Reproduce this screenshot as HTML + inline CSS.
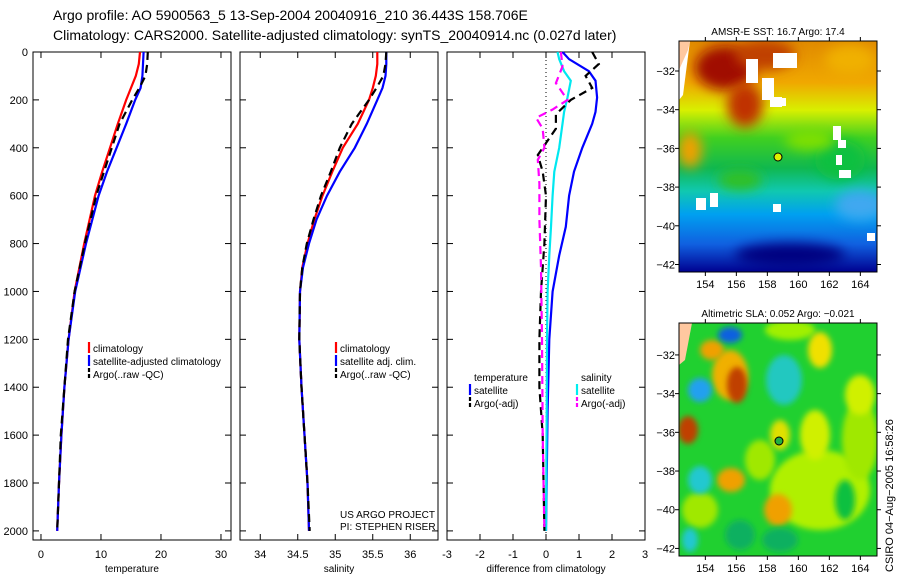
<!DOCTYPE html>
<html><head><meta charset="utf-8"><style>
body{margin:0;background:#fff;}
svg{display:block;font-family:"Liberation Sans",sans-serif;}
</style></head><body>
<svg id="c" width="900" height="580" viewBox="0 0 900 580">
<defs>
<filter id="bl" x="-50%" y="-50%" width="200%" height="200%"><feGaussianBlur stdDeviation="6"/></filter>
<filter id="bl2" x="-50%" y="-50%" width="200%" height="200%"><feGaussianBlur stdDeviation="3"/></filter>
<linearGradient id="sstg" x1="0" y1="0" x2="0" y2="1">
<stop offset="0" stop-color="#e08a00"/><stop offset="0.18" stop-color="#f0a800"/><stop offset="0.3" stop-color="#d8f000"/>
<stop offset="0.42" stop-color="#40d020"/><stop offset="0.55" stop-color="#10b850"/><stop offset="0.65" stop-color="#10c8b0"/>
<stop offset="0.75" stop-color="#00a0f0"/><stop offset="0.88" stop-color="#1060e0"/><stop offset="1" stop-color="#000090"/>
</linearGradient>
<clipPath id="m1c"><rect x="679" y="41" width="198" height="231"/></clipPath>
<clipPath id="m2c"><rect x="679" y="323" width="198" height="233"/></clipPath>
</defs>
<g id="root"></g>
</svg>
<script>
// ---- profile data (depth in m) ----
const tDepth = [0,50,100,150,200,300,400,500,600,800,1000,1200,1400,1600,1800,2000];
const tClim  = [16.5,16.3,15.8,15.0,14.2,12.8,11.5,10.2,9.0,7.2,5.6,4.6,3.9,3.4,3.0,2.7];
const tSat   = [17.1,17.0,16.9,16.6,15.7,14.2,12.6,11.0,9.6,7.5,5.7,4.6,3.9,3.4,3.0,2.7];
const tArgo  = [17.8,17.7,17.4,16.4,15.2,13.1,11.8,10.5,9.2,7.3,5.6,4.5,3.9,3.3,3.0,2.7];
const sDepth = [0,50,100,150,200,300,400,500,600,700,800,900,1000,1200,1400,1600,1800,2000];
const sClim  = [35.56,35.56,35.54,35.5,35.45,35.3,35.1,34.96,34.83,34.72,34.63,34.56,34.53,34.52,34.55,34.59,34.63,34.65];
const sSat   = [35.68,35.68,35.67,35.63,35.56,35.42,35.26,35.06,34.89,34.75,34.65,34.57,34.53,34.52,34.55,34.59,34.63,34.65];
const sArgo  = [35.68,35.67,35.64,35.55,35.45,35.22,35.06,34.94,34.81,34.71,34.62,34.56,34.53,34.52,34.55,34.59,34.63,34.66];
const dDepth = [0,30,80,120,190,250,300,400,500,600,730,850,1000,1200,1500,2000];
const dTSat  = [0.5,0.7,1.3,1.5,1.55,1.5,1.4,1.1,0.85,0.7,0.6,0.4,0.2,0.1,0.05,0.0];
const dSSat  = [0.35,0.4,0.55,0.75,0.65,0.55,0.5,0.4,0.25,0.2,0.15,0.1,0.05,0.03,0.02,0.0];
const dTArgoD= [0,50,100,150,200,260,320,380,430,500,600,800,1000,1200,1400,1600,2000];
const dTArgo = [1.4,1.6,1.2,1.4,0.75,0.3,0.3,0.0,-0.25,-0.1,0.0,-0.05,-0.15,-0.2,-0.2,-0.1,-0.05];
const dSArgoD= [0,60,130,200,240,275,320,400,450,550,700,900,1200,1600,2000];
const dSArgo = [0.45,0.5,0.3,0.65,0.2,-0.3,-0.1,-0.05,-0.25,-0.2,-0.2,-0.15,-0.12,-0.1,-0.05];
const depthTicks = [0,200,400,600,800,1000,1200,1400,1600,1800,2000];
const tTicks = [0,10,20,30];
const sTicks = [34,34.5,35,35.5,36];
const dTicks = [-3,-2,-1,0,1,2,3];

const NS="http://www.w3.org/2000/svg";
const root=document.getElementById('root');
function mk(tag,attrs,parent){const e=document.createElementNS(NS,tag);for(const k in attrs)e.setAttribute(k,attrs[k]);(parent||root).appendChild(e);return e;}
function txt(x,y,s,size,anchor,parent){const t=mk('text',{x:x,y:y,'font-size':size,'text-anchor':anchor||'start',fill:'#000'},parent);t.textContent=s;return t;}

const Y0=52, Y1=540, DMAX=2038;
const yScale=d=>Y0+(d/DMAX)*(Y1-Y0);

function panel(name,x0,x1,vmin,vmax,ticks,fmt,label){
  const g=mk('g',{});
  
  
  const xs=v=>x0+(v-vmin)/(vmax-vmin)*(x1-x0);
  mk('rect',{x:x0,y:Y0,width:x1-x0,height:Y1-Y0,fill:'none',stroke:'#000','stroke-width':1},g);
  ticks.forEach(v=>{const x=xs(v);
    mk('line',{x1:x,y1:Y1,x2:x,y2:Y1-6,stroke:'#000'},g);
    mk('line',{x1:x,y1:Y0,x2:x,y2:Y0+6,stroke:'#000'},g);
    txt(x,Y1+18,fmt(v),11,'middle',g);});
  depthTicks.forEach(d=>{const y=yScale(d);
    mk('line',{x1:x0,y1:y,x2:x0+6,y2:y,stroke:'#000'},g);
    mk('line',{x1:x1,y1:y,x2:x1-6,y2:y,stroke:'#000'},g);});
  const lt=txt((x0+x1)/2,Y1+32,label,10,'middle',g);
  
  return {g,xs};
}
function line(p,vals,depths,color,dash,name){
  const pts=vals.map((v,i)=>p.xs(v).toFixed(1)+','+yScale(depths[i]).toFixed(1)).join(' ');
  const l=mk('polyline',{points:pts,fill:'none',stroke:color,'stroke-width':2.2},p.g);
  if(dash)l.setAttribute('stroke-dasharray',dash);
  
  
}
depthTicks.forEach(d=>{txt(28,yScale(d)+4,String(d),11,'end');});

const p1=panel('temperature-panel',33,231,-1.33,31.67,tTicks,v=>String(v),'temperature');
line(p1,tClim,tDepth,'#ff0000',null,'temp-climatology-line');
line(p1,tSat,tDepth,'#0000ff',null,'temp-satellite-line');
line(p1,tArgo,tDepth,'#000000','8,5','temp-argo-line');

const p2=panel('salinity-panel',240,438,33.73,36.37,sTicks,v=>String(v),'salinity');
line(p2,sClim,sDepth,'#ff0000',null,'sal-climatology-line');
line(p2,sSat,sDepth,'#0000ff',null,'sal-satellite-line');
line(p2,sArgo,sDepth,'#000000','8,5','sal-argo-line');

const p3=panel('difference-panel',447,645,-3,3,dTicks,v=>String(v),'difference from climatology');
mk('line',{x1:p3.xs(0),y1:Y0,x2:p3.xs(0),y2:Y1,stroke:'#000','stroke-dasharray':'1,3'},p3.g);
line(p3,dTSat,dDepth,'#0000ff',null,'diff-temp-satellite-line');
line(p3,dSSat,dDepth,'#00e8f0',null,'diff-sal-satellite-line');
line(p3,dTArgo,dTArgoD,'#000000','8,5','diff-temp-argo-line');
line(p3,dSArgo,dSArgoD,'#ff00ff','8,5','diff-sal-argo-line');

function legend(x,y,items,name){
  const g=mk('g',{});
  items.forEach((it,i)=>{const yy=y+i*13;
    if(it[1]){const l=mk('line',{x1:x,y1:yy-10,x2:x,y2:yy+1,stroke:it[1],'stroke-width':2.2},g);if(it[2])l.setAttribute('stroke-dasharray','4,2');}
    txt(x+4,yy,it[0],10,'start',g);});
}
legend(89,352,[['climatology','#f00'],['satellite-adjusted climatology','#00f'],['Argo(..raw -QC)','#000',1]],'temp-legend');
legend(336,352,[['climatology','#f00'],['satellite adj. clim.','#00f'],['Argo(..raw -QC)','#000',1]],'sal-legend');
legend(470,381,[['temperature',null],['satellite','#00f'],['Argo(-adj)','#000',1]],'diff-temp-legend');
legend(577,381,[['salinity',null],['satellite','#0ee'],['Argo(-adj)','#f0f',1]],'diff-sal-legend');
txt(340,518,'US ARGO PROJECT',10);
txt(340,530,'PI: STEPHEN RISER',10);
const t1=txt(53,20,'Argo profile: AO 5900563_5 13-Sep-2004 20040916_210 36.443S 158.706E',14);

const t2=txt(53,40,'Climatology: CARS2000. Satellite-adjusted climatology: synTS_20040914.nc (0.027d later)',14);


// ---- maps ----
const lonTicks=[154,156,158,160,162,164];
const latTicks=[-32,-34,-36,-38,-40,-42];
function mapAxes(name,top,bot,latTop,title){
  const g=mk('g',{});
  const lx=v=>679+(v-152.3)*15.5, ly=v=>top+(latTop-v)*19.35;
  mk('rect',{x:679,y:top,width:198,height:bot-top,fill:'none',stroke:'#000'},g);
  lonTicks.forEach(v=>{mk('line',{x1:lx(v),y1:bot,x2:lx(v),y2:bot+4,stroke:'#000'},g);mk('line',{x1:lx(v),y1:top,x2:lx(v),y2:top-4,stroke:'#000'},g);txt(lx(v),bot+16,String(v),11,'middle',g);});
  latTicks.forEach(v=>{mk('line',{x1:679,y1:ly(v),x2:675,y2:ly(v),stroke:'#000'},g);mk('line',{x1:877,y1:ly(v),x2:881,y2:ly(v),stroke:'#000'},g);txt(675,ly(v)+4,String(v).replace('-','\u2212'),11,'end',g);});
  txt(778,top-6,title,10,'middle',g);
  return {lx,ly};
}
// SST map
const m1=mk('g',{'clip-path':'url(#m1c)'});

mk('rect',{x:679,y:41,width:198,height:231,fill:'url(#sstg)'},m1);
[[725,68,30,22,'#a01000'],[765,55,30,15,'#c04000'],[745,105,18,22,'#c03000'],[690,150,12,18,'#f0a000'],[740,180,22,10,'#30c020'],[840,160,25,20,'#10c040'],[860,205,25,15,'#40a8f0'],[790,255,55,12,'#000080'],[810,140,25,10,'#80e000'],[850,60,25,15,'#f0b000']].forEach(b=>mk('ellipse',{cx:b[0],cy:b[1],rx:b[2],ry:b[3],fill:b[4],filter:'url(#bl)'},m1));
mk('path',{d:'M679,41 L690,41 L683,95 L679,100 Z',fill:'#fff'},m1);
mk('path',{d:'M679,41 L690,41 L688,50 L679,70 Z',fill:'#ffc8a0'},m1);
[[746,59,12,24],[773,53,24,15],[762,78,12,22],[770,97,12,10],[773,98,13,8],[833,126,8,14],[838,140,8,8],[836,155,6,10],[839,170,12,8],[696,198,10,12],[710,193,8,14],[773,204,8,8],[867,233,8,8]].forEach(r=>mk('rect',{x:r[0],y:r[1],width:r[2],height:r[3],fill:'#fff'},m1));
mapAxes('sst-map',41,272,-30.45,'AMSR-E SST: 16.7 Argo: 17.4');
mk('circle',{cx:778,cy:157,r:4,fill:'#e0f000',stroke:'#000'});
// SLA map
const m2=mk('g',{'clip-path':'url(#m2c)'});

mk('rect',{x:679,y:323,width:198,height:233,fill:'#20d030'},m2);
[[820,490,50,40,'#b0f000'],[860,440,18,40,'#a0e800'],[790,330,25,10,'#a0f000'],[700,510,18,18,'#a0e800'],[760,460,15,20,'#a0e800'],
 [730,375,18,25,'#f0b000'],[737,385,10,18,'#c04000'],[712,350,12,10,'#f0a000'],[784,380,18,25,'#20c8c0'],[730,335,12,8,'#1060e0'],[700,390,12,12,'#20a0f0'],[688,430,10,14,'#c04000'],[731,480,14,12,'#f0a000'],[778,510,14,16,'#f0a000'],[780,435,10,15,'#e0e000'],[815,435,15,25,'#d0f000'],[820,350,12,18,'#f0e000'],[860,395,15,20,'#d0f000'],[700,480,12,14,'#20c8d0'],[690,540,8,12,'#20c8d0'],[740,535,15,15,'#10b060'],[780,540,18,12,'#10b060'],[845,500,10,20,'#10c040']].forEach(b=>mk('ellipse',{cx:b[0],cy:b[1],rx:b[2],ry:b[3],fill:b[4],filter:'url(#bl2)'},m2));
mk('path',{d:'M679,323 L692,323 L685,360 L679,365 Z',fill:'#ffc8a0'},m2);
mapAxes('sla-map',323,556,-30.35,'Altimetric SLA: 0.052 Argo: \u22120.021');
mk('circle',{cx:779,cy:441,r:4,fill:'#20b040',stroke:'#000'});
const side=txt(0,0,'CSIRO 04\u2212Aug\u22122005 16:58:26',11,'start');
side.setAttribute('transform','translate(893,572) rotate(-90)');

</script>
</body></html>
